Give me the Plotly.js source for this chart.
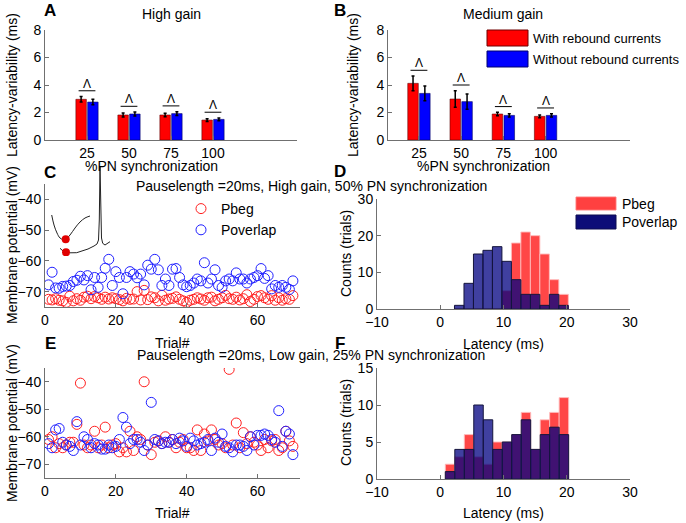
<!DOCTYPE html>
<html><head><meta charset="utf-8">
<script src="https://cdn.plot.ly/plotly-3.0.1.min.js"></script>
<style>html,body{margin:0;padding:0;background:#fff}#plot{width:686px;height:523px}</style>
</head><body><div id="plot"></div>
<script>
// ---------- DATA ----------
const syncLevels = ['25', '50', '75', '100'];
const highWith = [2.96, 1.82, 1.82, 1.45];
const highWithErr = [0.2, 0.14, 0.13, 0.1];
const highWithout = [2.76, 1.89, 1.92, 1.50];
const highWithoutErr = [0.2, 0.14, 0.14, 0.1];
const medWith = [4.12, 2.98, 1.89, 1.72];
const medWithErr = [0.53, 0.6, 0.12, 0.1];
const medWithout = [3.39, 2.79, 1.79, 1.79];
const medWithoutErr = [0.53, 0.55, 0.12, 0.12];

const trials = [1,2,3,4,5,6,7,8,9,10,11,12,13,14,15,16,17,18,19,20,21,22,23,24,25,26,27,28,29,30,31,32,33,34,35,36,37,38,39,40,41,42,43,44,45,46,47,48,49,50,51,52,53,54,55,56,57,58,59,60,61,62,63,64,65,66,67,68,69,70];

const cPbeg = [-72.5,-72.7,-72.3,-72.8,-73,-73.5,-71.5,-73,-72.3,-72.8,-71.8,-71.5,-72.3,-71.6,-72,-72.5,-71.8,-72.4,-72,-72.3,
  -72.6,-73,-72.2,-72.5,-72.4,-70,-72.7,-69.6,-72.6,-71.7,-72,-73,-71.2,-72.8,-72.4,-72.2,-71.7,-72.5,-73,-73.5,
  -72.8,-72.5,-72,-72.4,-72.8,-72,-71.8,-73,-72.5,-72,-71.2,-72.3,-72.5,-71.8,-72.7,-72.3,-71,-73.2,-72.5,-71.6,
  -71.3,-72,-72.5,-71.3,-72.8,-72,-72.8,-72.3,-72.5,-71.3];
const cPoverlap = [-67.8,-63.7,-68.8,-68.9,-68.3,-68.2,-68,-66.7,-66.3,-65,-66.2,-64.8,-69.4,-65.4,-68.6,-65.4,-62.4,-59.5,-68,-63.5,
  -65.4,-70.7,-65.4,-63.5,-64.3,-65.5,-64.3,-67.8,-61.4,-62.7,-59.5,-62.9,-68,-65.9,-68,-62.7,-62.5,-65.4,-67.8,-68.4,
  -68,-67.2,-65.9,-66.5,-60.6,-67.2,-65.9,-62.9,-68,-68.6,-66.5,-65.9,-66.5,-63.9,-65.9,-65.9,-67.2,-65.9,-65.4,-64.8,
  -62.5,-65.7,-64.8,-69.1,-68,-68.6,-68,-68.6,-69.3,-66.5];

const ePbeg = [-61,-60,-64,-62.5,-64,-63,-62,-62,-55.5,-40.5,-63,-64,-63,-58,-64,-63,-56.5,-64,-63,-62.5,
  -65.5,-64,-65.5,-58,-65,-60,-61,-40,-63,-66.5,-62,-61.5,-62.5,-60,-62,-61,-64,-62,-61,-64,
  -64,-65,-57.5,-65,-59,-61.5,-57.5,-61,-63,-62.5,-64,-35.5,-63,-55,-64,-58.5,-62.5,-60,-62,-63,
  -65,-61,-64,-61.5,-61,-65,-64,-58,-61.5,-63.5];
const ePoverlap = [-62.5,-64,-57.5,-57,-62,-63,-63.5,-65,-54.5,-63,-60,-61,-64,-62.5,-63,-64.5,-64.5,-63,-64,-63.5,
  -61,-53,-56.5,-62.5,-61,-61,-62,-65,-63,-47.5,-61,-61.5,-62.5,-62,-62,-61,-62.5,-60.5,-61.5,-63.5,
  -60.5,-61.5,-63,-62.5,-62,-61,-65,-60.5,-62,-59,-63.5,-64,-65.5,-63,-63,-63.5,-65,-60,-63,-59.5,
  -59.5,-59,-59.5,-61,-62,-50.5,-63.5,-58,-59,-66.5];

const dLatency = [3.0,4.5,6.0,7.5,9.0,10.5,12.0,13.5,15.0,16.5,18.0,19.5];
const dPbeg = [0,0,0,0,0,5,18,21,20,15,8,4];
const dPoverlap = [1,7,15,16,17,13,8,4,4,1,4,1];
const fLatency = [1.55,3.05,4.55,6.05,7.55,9.05,10.55,12.05,13.55,15.05,16.55,18.05,19.55];
const fPbeg = [2,3,6,3,2,5,5,6,9,4,8,9,11];
const fPoverlap = [1,4,4,10,8,4,5,6,8,4,6,7,6];
const binWidth = 1.5;

// inset schematic trace (arbitrary units)
const insetUpperT = [1.7,4,7,10,13.3,16,20,25,30,35,40];
const insetUpperV = [41,31,23,18,16.5,17,21,28,34,38,40];
const insetLowerT = [10,13,16,20,26.7,32,38,44,47,48.5,49.3,50,50.7,51.5,52.7,55,58,60];
const insetLowerV = [7.7,5,3.7,3.2,3.3,5,7,10,12,16,36,90,36,18,12.7,11,13,14.3];
const insetDotT = [15.7, 16];
const insetDotV = [16.7, 3.7];

// ---------- LAYOUT HELPERS ----------
const W = 686, H = 523;
const px = x => x / W;
const py = y => 1 - y / H;
const FONT = 'Liberation Sans, Arial, sans-serif';
const AXC = '#707070';
function ax(dom, range, extra) {
  return Object.assign({
    domain: dom, range: range, showline: true, linecolor: AXC, linewidth: 1,
    ticks: 'inside', ticklen: 4, tickcolor: AXC, showgrid: false, zeroline: false,
    tickfont: {size: 14, color: '#000', family: FONT}, fixedrange: true
  }, extra || {});
}
const pos = syncLevels.map((_, i) => i + 1);

const traces = [];
function barPair(xa, ya, withV, withE, woV, woE) {
  traces.push({type: 'bar', x: pos, y: withV, xaxis: xa, yaxis: ya, offset: -0.265, width: 0.25,
    marker: {color: '#ff0000', line: {color: 'rgba(90,0,0,0.7)', width: 0.8}},
    error_y: {type: 'data', array: withE, color: '#000', thickness: 1.5, width: 1.5}, showlegend: false});
  traces.push({type: 'bar', x: pos, y: woV, xaxis: xa, yaxis: ya, offset: 0.015, width: 0.25,
    marker: {color: '#0000ff', line: {color: 'rgba(0,0,90,0.7)', width: 0.8}},
    error_y: {type: 'data', array: woE, color: '#000', thickness: 1.5, width: 1.5}, showlegend: false});
}
barPair('x', 'y', highWith, highWithErr, highWithout, highWithoutErr);
barPair('x2', 'y2', medWith, medWithErr, medWithout, medWithoutErr);

// C scatter
traces.push({type: 'scatter', mode: 'markers', x: trials, y: cPbeg, xaxis: 'x3', yaxis: 'y3', name: 'Pbeg',
  marker: {symbol: 'circle-open', size: 10, color: '#ff2020', line: {width: 1}}, legend: 'legend2'});
traces.push({type: 'scatter', mode: 'markers', x: trials, y: cPoverlap, xaxis: 'x3', yaxis: 'y3', name: 'Poverlap',
  marker: {symbol: 'circle-open', size: 10, color: '#2020ff', line: {width: 1}}, legend: 'legend2'});
// E scatter
traces.push({type: 'scatter', mode: 'markers', x: trials, y: ePbeg, xaxis: 'x5', yaxis: 'y5', showlegend: false,
  marker: {symbol: 'circle-open', size: 10, color: '#ff2020', line: {width: 1}}});
traces.push({type: 'scatter', mode: 'markers', x: trials, y: ePoverlap, xaxis: 'x5', yaxis: 'y5', showlegend: false,
  marker: {symbol: 'circle-open', size: 10, color: '#2020ff', line: {width: 1}}});

// D and F histograms
function hist(xa, ya, centers, red, navy) {
  traces.push({type: 'bar', x: centers, y: red, width: binWidth, xaxis: xa, yaxis: ya, showlegend: false,
    marker: {color: 'rgba(255,0,0,0.72)', line: {color: 'rgba(255,190,190,0.9)', width: 1}}});
  traces.push({type: 'bar', x: centers, y: navy, width: binWidth, xaxis: xa, yaxis: ya, showlegend: false,
    marker: {color: 'rgba(0,0,128,0.75)', line: {color: '#14143c', width: 1}}});
}
hist('x4', 'y4', dLatency, dPbeg, dPoverlap);
hist('x6', 'y6', fLatency, fPbeg, fPoverlap);

// inset schematic
traces.push({type: 'scatter', mode: 'lines', x: insetUpperT, y: insetUpperV, xaxis: 'x7', yaxis: 'y7',
  line: {color: '#222', width: 1, shape: 'spline'}, showlegend: false});
traces.push({type: 'scatter', mode: 'lines', x: insetLowerT, y: insetLowerV, xaxis: 'x7', yaxis: 'y7',
  line: {color: '#222', width: 1}, showlegend: false});
traces.push({type: 'scatter', mode: 'markers', x: insetDotT, y: insetDotV, xaxis: 'x7', yaxis: 'y7',
  marker: {color: '#e00000', size: 8}, showlegend: false});

// ---------- ANNOTATIONS & SHAPES ----------
const annotations = [];
const shapes = [];
function txt(text, x, y, opts) {
  annotations.push(Object.assign({text: text, x: px(x), y: py(y), xref: 'paper', yref: 'paper',
    showarrow: false, xanchor: 'center', yanchor: 'middle',
    font: {size: 14, color: '#000', family: FONT}}, opts || {}));
}
// panel letters
[['A', 50, 10], ['B', 340, 10], ['C', 50, 173], ['D', 340, 172], ['E', 50, 343], ['F', 340, 343]]
  .forEach(([t, x, y]) => txt('<b>' + t + '</b>', x, y, {font: {size: 17, color: '#000', family: FONT}}));
txt('High gain', 171, 14);
txt('Medium gain', 503, 14);
txt('Latency-variability (ms)', 12, 85, {textangle: -90});
txt('Latency-variability (ms)', 353, 85, {textangle: -90});
txt('%PN synchronization', 151, 166);
txt('%PN synchronization', 483, 166);
txt('Pauselength =20ms, High gain, 50% PN synchronization', 311, 186);
txt('Pauselength =20ms, Low gain, 25% PN synchronization', 311, 355);
txt('Membrane potential (mV)', 12, 245, {textangle: -90});
txt('Membrane potential (mV)', 12, 423, {textangle: -90});
txt('Counts (trials)', 346, 254, {textangle: -90});
txt('Counts (trials)', 346, 423, {textangle: -90});
txt('Trial#', 172, 343);
txt('Trial#', 172, 513);
txt('Latency (ms)', 503, 344);
txt('Latency (ms)', 503, 513);

// significance markers
function sig(xa, ya, withV, withE, woV, woE) {
  pos.forEach((p, i) => {
    const top = Math.max(withV[i] + withE[i], woV[i] + woE[i]) + 0.42;
    shapes.push({type: 'line', xref: xa, yref: ya, x0: p - 0.2, x1: p + 0.2, y0: top, y1: top,
      line: {color: '#000', width: 1}});
    annotations.push({text: 'Λ', x: p, y: top, xref: xa, yref: ya, showarrow: false,
      xanchor: 'center', yanchor: 'bottom', yshift: -2, font: {size: 12, color: '#000', family: FONT}});
  });
}
sig('x', 'y', highWith, highWithErr, highWithout, highWithoutErr);
sig('x2', 'y2', medWith, medWithErr, medWithout, medWithoutErr);

// bar legends (B and D)
function swatch(x0, y0, x1, y1, fill, edge) {
  shapes.push({type: 'rect', xref: 'paper', yref: 'paper', x0: px(x0), x1: px(x1), y0: py(y1), y1: py(y0),
    fillcolor: fill, line: {color: edge, width: 1}});
}
const LF = {size: 13, color: '#000', family: FONT};
swatch(487, 30, 528, 46, '#ff0000', '#700000');
swatch(487, 51, 528, 67, '#0000ff', '#000070');
txt('With rebound currents', 531, 38.5, {xanchor: 'left', font: LF});
txt('Without rebound currents', 531, 59.5, {xanchor: 'left', font: LF});
swatch(576, 197, 616, 210, 'rgba(255,0,0,0.75)', 'rgba(255,120,120,0.9)');
swatch(576, 215, 616, 229, '#0c0c78', '#0c0c50');
txt('Pbeg', 620, 203.5, {xanchor: 'left'});
txt('Poverlap', 620, 222, {xanchor: 'left'});

const layout = {
  width: W, height: H, margin: {l: 0, r: 0, t: 0, b: 0},
  paper_bgcolor: '#fff', plot_bgcolor: 'rgba(0,0,0,0)',
  font: {family: FONT, size: 14, color: '#000'},
  barmode: 'overlay', showlegend: true,
  xaxis: ax([px(45), px(297)], [0, 6], {anchor: 'y', tickvals: pos, ticktext: syncLevels}),
  yaxis: ax([py(140), py(30)], [0, 8], {anchor: 'x', tickvals: [0, 2, 4, 6, 8]}),
  xaxis2: ax([px(388), px(630)], [0.267, 6], {anchor: 'y2', tickvals: pos, ticktext: syncLevels}),
  yaxis2: ax([py(140), py(30)], [0, 8], {anchor: 'x2', tickvals: [0, 2, 4, 6, 8]}),
  xaxis3: ax([px(45), px(300)], [0, 72], {anchor: 'y3', tickvals: [0, 20, 40, 60]}),
  yaxis3: ax([py(307), py(184)], [-75, -35], {anchor: 'x3', tickvals: [-70, -60, -50, -40]}),
  xaxis4: ax([px(377), px(630)], [-10, 30], {anchor: 'y4', tickvals: [-10, 0, 10, 20, 30]}),
  yaxis4: ax([py(309), py(199)], [0, 30], {anchor: 'x4', tickvals: [0, 10, 20, 30]}),
  xaxis5: ax([px(45), px(300)], [0, 72], {anchor: 'y5', tickvals: [0, 20, 40, 60]}),
  yaxis5: ax([py(478), py(368)], [-75, -35], {anchor: 'x5', tickvals: [-70, -60, -50, -40]}),
  xaxis6: ax([px(377), px(630)], [-10, 30], {anchor: 'y6', tickvals: [-10, 0, 10, 20, 30]}),
  yaxis6: ax([py(479), py(368)], [0, 15], {anchor: 'x6', tickvals: [0, 5, 10, 15]}),
  xaxis7: {domain: [px(50), px(112)], range: [0, 62], visible: false, anchor: 'y7', fixedrange: true},
  yaxis7: {domain: [py(256), py(150)], range: [0, 106], visible: false, anchor: 'x7', fixedrange: true},
  legend2: {x: px(181), xanchor: 'left', y: py(193), yanchor: 'top', bgcolor: 'rgba(0,0,0,0)',
    font: {size: 14, color: '#000', family: FONT}, tracegroupgap: 0},
  annotations: annotations, shapes: shapes
};
Plotly.newPlot('plot', traces, layout, {displayModeBar: false, staticPlot: true});
</script></body></html>
